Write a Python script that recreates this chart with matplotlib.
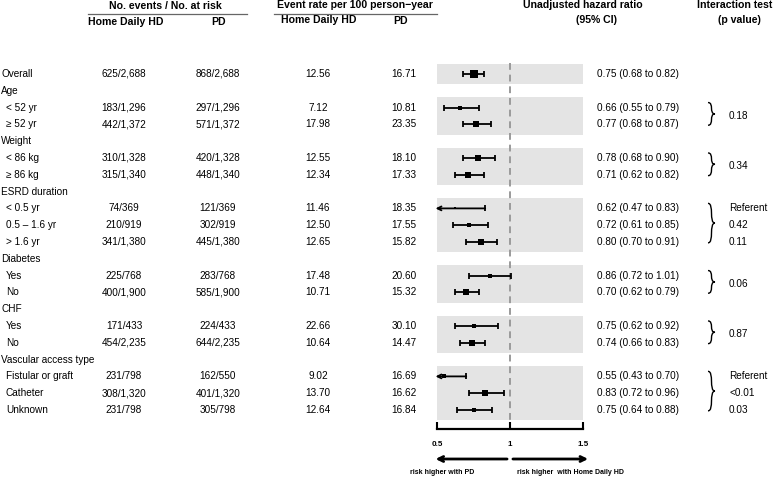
import numpy as np
import matplotlib
matplotlib.use('Agg')
import matplotlib.pyplot as plt
from matplotlib.transforms import blended_transform_factory
from matplotlib.path import Path
from matplotlib.lines import Line2D
import matplotlib.patches as mpatches

plt.rcParams['font.family'] = ['Liberation Sans', 'DejaVu Sans']

# ---- data (None = group header row) ----
row_labels = ["Overall", "Age", "< 52 yr", "\u2265 52 yr", "Weight", "< 86 kg", "\u2265 86 kg",
              "ESRD duration", "< 0.5 yr", "0.5 \u2013 1.6 yr", "> 1.6 yr", "Diabetes", "Yes", "No",
              "CHF", "Yes", "No", "Vascular access type", "Fistular or graft", "Catheter", "Unknown"]
hd_events = [625, None, 183, 442, None, 310, 315, None, 74, 210, 341, None, 225, 400, None, 171, 454, None, 231, 308, 231]
hd_total = [2688, None, 1296, 1372, None, 1328, 1340, None, 369, 919, 1380, None, 768, 1900, None, 433, 2235, None, 798, 1320, 798]
pd_events = [868, None, 297, 571, None, 420, 448, None, 121, 302, 445, None, 283, 585, None, 224, 644, None, 162, 401, 305]
pd_total = [2688, None, 1296, 1372, None, 1328, 1340, None, 369, 919, 1380, None, 768, 1900, None, 433, 2235, None, 550, 1320, 798]
rate_hd = [12.56, None, 7.12, 17.98, None, 12.55, 12.34, None, 11.46, 12.50, 12.65, None, 17.48, 10.71, None, 22.66, 10.64, None, 9.02, 13.70, 12.64]
rate_pd = [16.71, None, 10.81, 23.35, None, 18.10, 17.33, None, 18.35, 17.55, 15.82, None, 20.60, 15.32, None, 30.10, 14.47, None, 16.69, 16.62, 16.84]
hr = [0.75, None, 0.66, 0.77, None, 0.78, 0.71, None, 0.62, 0.72, 0.80, None, 0.86, 0.70, None, 0.75, 0.74, None, 0.55, 0.83, 0.75]
hr_lo = [0.68, None, 0.55, 0.68, None, 0.68, 0.62, None, 0.47, 0.61, 0.70, None, 0.72, 0.62, None, 0.62, 0.66, None, 0.43, 0.72, 0.64]
hr_hi = [0.82, None, 0.79, 0.87, None, 0.90, 0.82, None, 0.83, 0.85, 0.91, None, 1.01, 0.79, None, 0.92, 0.83, None, 0.70, 0.96, 0.88]
p_values = [["0.18"], ["0.34"], ["Referent", "0.42", "0.11"], ["0.06"], ["0.87"], ["Referent", "<0.01", "0.03"]]
x_ticks = [0.5, 1, 1.5]

W, H = 778, 478
ROW_TOP, ROW_STEP, AXIS_Y = 74, 16.8, 429
FS = 7.2

fig = plt.figure(figsize=(W / 100, H / 100), dpi=100)
ax = fig.add_axes([437 / W, 1 - AXIS_Y / H, 146 / W, AXIS_Y / H])
ax.set_xlim(0.5, 1.5)
ax.set_ylim((AXIS_Y - ROW_TOP) / ROW_STEP, -ROW_TOP / ROW_STEP)
for s in ['top', 'left', 'right']:
    ax.spines[s].set_visible(False)
ax.spines['bottom'].set_linewidth(1.6)
ax.set_yticks([])
ax.set_xticks(x_ticks)
ax.set_xticklabels(['0.5', '1', '1.5'], fontsize=5.8, fontweight='bold')
ax.tick_params(axis='x', direction='in', length=5, width=1.5, pad=9)
ax.patch.set_visible(False)

tr = blended_transform_factory(fig.transFigure, ax.transData)

# runs of data rows
blocks = []
cur = []
for i, v in enumerate(hr):
    if v is None:
        if cur:
            blocks.append(cur)
        cur = []
    else:
        cur.append(i)
blocks.append(cur)

# gray bands
for b in blocks:
    ax.axhspan(b[0] - 0.62, b[-1] + 0.62, color='#e4e4e4', lw=0, zorder=0)

# reference line
ax.vlines(1, -0.65, ax.get_ylim()[0], colors='#9a9a9a', linestyles=(0, (3.5, 2.5)), lw=1.4, zorder=1)

# CIs and markers
for i in range(len(hr)):
    if hr[i] is None:
        continue
    if hr_lo[i] >= 0.5:
        ax.errorbar(hr[i], i, xerr=[[hr[i] - hr_lo[i]], [hr_hi[i] - hr[i]]], fmt='none',
                    ecolor='black', elinewidth=1.3, capsize=2.5, capthick=1.3, zorder=3)
    else:
        ax.annotate('', xy=(0.49, i), xytext=(hr_hi[i], i), annotation_clip=False,
                    arrowprops=dict(arrowstyle='->', lw=1.3, color='black',
                                    shrinkA=0, shrinkB=0, mutation_scale=7), zorder=3)
        ax.plot(hr_hi[i], i, marker='|', ms=5, mew=1.3, color='black', zorder=3)
    side = 0.207 * np.sqrt(hd_events[i] + pd_events[i])
    ax.plot(hr[i], i, 's', ms=side * 0.72, color='black', mew=0, zorder=4)

# table text
for i, lab in enumerate(row_labels):
    x0 = 6 if (hr[i] is not None and i > 0) else 1
    ax.text(x0 / W, i, lab, transform=tr, ha='left', va='center', fontsize=FS)
    if hr[i] is None:
        continue
    ax.text(124 / W, i, "{}/{:,}".format(hd_events[i], hd_total[i]), transform=tr,
            ha='center', va='center', fontsize=FS)
    ax.text(218 / W, i, "{}/{:,}".format(pd_events[i], pd_total[i]), transform=tr,
            ha='center', va='center', fontsize=FS)
    ax.text(318 / W, i, "{:.2f}".format(rate_hd[i]), transform=tr, ha='center', va='center', fontsize=FS)
    ax.text(404 / W, i, "{:.2f}".format(rate_pd[i]), transform=tr, ha='center', va='center', fontsize=FS)
    ax.text(597 / W, i, "{:.2f} ({:.2f} to {:.2f})".format(hr[i], hr_lo[i], hr_hi[i]), transform=tr,
            ha='left', va='center', fontsize=FS)


def brace(x0, w, y0, y1):
    ym = (y0 + y1) / 2
    verts = [(x0, y0), (x0 + w * 0.9, y0), (x0 + w * 0.1, ym), (x0 + w, ym),
             (x0 + w * 0.1, ym), (x0 + w * 0.9, y1), (x0, y1)]
    codes = [Path.MOVETO] + [Path.CURVE4] * 6
    fig.add_artist(mpatches.PathPatch(Path(verts, codes), transform=tr, fill=False, lw=1.0, color='black'))


# interaction tests
for b, pv in zip(blocks[1:], p_values):
    brace(708 / W, 7 / W, b[0] - 0.3, b[-1] + 0.05)
    if len(pv) == 1:
        ax.text(729 / W, (b[0] + b[-1]) / 2, pv[0], transform=tr, ha='left', va='center', fontsize=FS)
    else:
        for r, p in zip(b, pv):
            ax.text(729 / W, r, p, transform=tr, ha='left', va='center', fontsize=FS)

# headers
hdr = dict(ha='center', va='center', fontsize=7.6, fontweight='bold')
fig.text(165 / W, 1 - 6 / H, "No. events / No. at risk", **hdr)
fig.text(126 / W, 1 - 22 / H, "Home Daily HD", **hdr)
fig.text(219 / W, 1 - 22 / H, "PD", **hdr)
fig.text(355 / W, 1 - 5 / H, "Event rate per 100 person\u2212year", **hdr)
fig.text(319 / W, 1 - 20 / H, "Home Daily HD", **hdr)
fig.text(401 / W, 1 - 21 / H, "PD", **hdr)
fig.text(583 / W, 1 - 5 / H, "Unadjusted hazard ratio", **hdr)
fig.text(596 / W, 1 - 20 / H, "(95% CI)", **hdr)
fig.text(735 / W, 1 - 5 / H, "Interaction test", **hdr)
fig.text(739 / W, 1 - 20 / H, "(p value)", **hdr)
fig.add_artist(Line2D([88 / W, 247 / W], [1 - 13.5 / H] * 2, color='#666666', lw=0.9))
fig.add_artist(Line2D([274 / W, 437 / W], [1 - 13.5 / H] * 2, color='#666666', lw=0.9))

# direction arrows
for tail, head in [(0.98, 0.49), (1.02, 1.535)]:
    ax.annotate('', xy=(head, H - 459), xytext=(tail, H - 459), xycoords=('data', 'figure pixels'),
                textcoords=('data', 'figure pixels'), annotation_clip=False,
                arrowprops=dict(arrowstyle='->', lw=2.0, color='black', shrinkA=0, shrinkB=0,
                                mutation_scale=9))
fig.text(410 / W, 6 / H, "risk higher with PD", ha='left', va='center', fontsize=5, fontweight='bold')
fig.text(517 / W, 6 / H, "risk higher  with Home Daily HD", ha='left', va='center', fontsize=5, fontweight='bold')

fig.savefig('out.png', dpi=100)
